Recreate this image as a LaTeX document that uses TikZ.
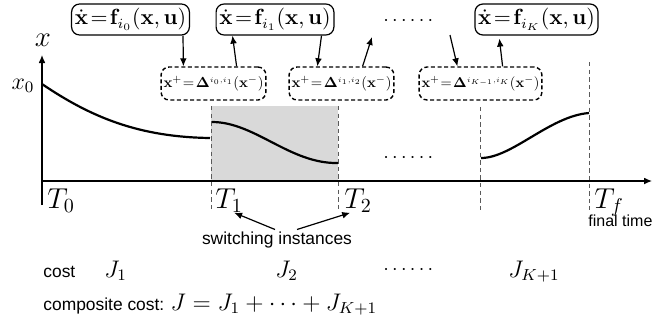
\documentclass[tikz,border=0pt]{standalone}
\usepackage{amsmath,amssymb}
\usepackage[no-math]{fontspec}
\setsansfont{Liberation Sans}
\usetikzlibrary{arrows.meta,positioning}
\definecolor{shadefill}{gray}{0.85}
\definecolor{guidegray}{HTML}{5A5A5A}
\newcommand{\jumpmap}[2]{\resizebox{#2}{!}{$\mathbf x^{+}\mkern-4mu=\mkern-3mu\mathbf{\Delta}^{\scriptscriptstyle #1}(\mathbf x^{-})$}}
\tikzset{
  modebox/.style={
    draw,
    rounded corners=4pt,
    line width=0.6pt,
    inner xsep=1.6pt,
    inner ysep=1.5pt,
    minimum height=15.5pt,
    font=\fontsize{10.5}{12}\selectfont
  },
  jumpbox/.style={
    modebox,
    dash pattern=on 2pt off 1.3pt,
    line width=0.7pt,
    inner xsep=1.2pt,
    minimum height=16.5pt,
    font=\fontsize{10}{12}\selectfont
  },
  axis/.style={-{Latex[length=4pt,width=3.4pt]}, line width=0.6pt},
  traj/.style={line width=1.1pt},
  guide/.style={draw=guidegray, line width=0.5pt, dash pattern=on 2.2pt off 1.6pt},
  arrow/.style={-{Latex[length=4pt,width=3.4pt]}, line width=0.6pt},
  tlabel/.style={anchor=base west, inner sep=0pt, font=\fontsize{14.4}{16}\selectfont},
  jlabel/.style={anchor=base west, inner sep=0pt, font=\fontsize{12}{14}\selectfont},
  smallnote/.style={inner sep=1pt, font=\sffamily\fontsize{8.7}{10}\selectfont}
}
\begin{document}
\begin{tikzpicture}[x=0.5pt, y=-0.5pt]
  \useasboundingbox (0,0) rectangle (654,323);
  \fill[shadefill] (211,106) rectangle (338,181);
  \foreach \tx/\ty in {211/106, 338/106, 480/107, 589/62}
    \draw[guide] (\tx,\ty) -- (\tx,210);
  \draw[axis] (42,205) -- (42,55);
  \draw[axis] (42,181) -- (652,181);
  \draw[traj] (42,84) .. controls (92,118) and (140,137) .. (210,138);
  \draw[traj] (212,122) .. controls (255,122) and (290,164) .. (338,163);
  \draw[traj] (481,158) .. controls (512,158) and (550,116) .. (589,113);

  \node[font=\fontsize{14}{16}\selectfont] (xlab) at (43,40) {$x$};
  \node[font=\fontsize{12}{14}\selectfont] (x0) at (23,86) {$x_0$};
  \node[tlabel] (t0) at (47,208) {$T_0$};
  \node[tlabel] (t1) at (215,208) {$T_1$};
  \node[tlabel] (t2) at (344,208) {$T_2$};
  \node[tlabel] (tf) at (594,208) {$T_f$};
  \node[smallnote, anchor=west, font=\sffamily\fontsize{8}{9}\selectfont] (final) at (586,221) {final time};
  \node[font=\fontsize{10}{12}\selectfont] (middots) at (410,158) {$\cdots\cdots$};

  \node[modebox] (b0) at (130.5,19.5) {$\dot{\mathbf x}\!=\!\mathbf f_{i_0}(\mathbf x,\mathbf u)$};
  \node[modebox] (b1) at (275,19.5) {$\dot{\mathbf x}\!=\!\mathbf f_{i_1}(\mathbf x,\mathbf u)$};
  \node[font=\fontsize{10}{12}\selectfont] (topdots) at (410,21) {$\cdots\cdots$};
  \node[modebox] (bk) at (536.5,19.5) {$\dot{\mathbf x}\!=\!\mathbf f_{i_K}(\mathbf x,\mathbf u)$};
  \node[jumpbox] (d1) at (213.5,83.5) {\jumpmap{i_0,i_1}{50pt}};
  \node[jumpbox] (d2) at (341.5,83.5) {\jumpmap{i_1,i_2}{50pt}};
  \node[jumpbox] (dk) at (480.5,83.5) {\jumpmap{i_{K-1},i_K}{59pt}};
  \coordinate (dotsin) at (372,37);
  \coordinate (dotsout) at (450,35);

  \draw[arrow] ([xshift=-3.5pt]b0.south east) -- ([xshift=11.5pt]d1.north west);
  \draw[arrow] ([xshift=-15pt]d1.north east) -- ([xshift=8.5pt]b1.south west);
  \draw[arrow] ([xshift=-6.5pt]b1.south east) -- ([xshift=14.5pt]d2.north west);
  \draw[arrow] ([xshift=-16pt]d2.north east) -- (dotsin);
  \draw[arrow] (dotsout) -- ([xshift=19.5pt]dk.north west);
  \draw[arrow] ([xshift=-20pt]dk.north east) -- ([xshift=12.5pt,yshift=-1.5pt]bk.south west);

  \node[smallnote] (switch) at (277,240) {switching instances};
  \draw[arrow] ([xshift=-1pt]switch.north) -- ([xshift=2.5pt]t1.south);
  \draw[arrow] ([xshift=10pt]switch.north) -- ([xshift=-4pt]t2.south);

  \node[smallnote, anchor=base west, inner sep=0pt] (cost) at (43,277) {cost};
  \node[jlabel] (j1) at (104,277) {$J_1$};
  \node[jlabel] (j2) at (275,277) {$J_2$};
  \node[font=\fontsize{10}{12}\selectfont] (costdots) at (410,270) {$\cdots\cdots$};
  \node[jlabel] (jk) at (508,277) {$J_{K+1}$};
  \node[smallnote, anchor=base west, inner sep=0pt] (total) at (43,310)
    {composite cost: {\fontsize{12}{14}\selectfont$J=J_1+\cdots+J_{K+1}$}};
\end{tikzpicture}
\end{document}
